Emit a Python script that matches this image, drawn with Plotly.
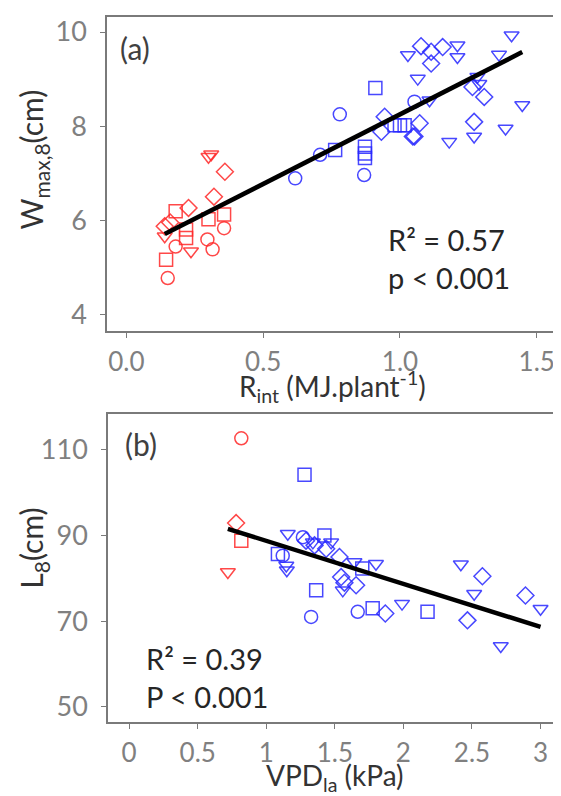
import plotly.graph_objects as go

# ---------------- Panel (a): Rint vs Wmax,8 ----------------
a_red_x = [0.30, 0.31, 0.36, 0.32, 0.227, 0.18, 0.357, 0.30, 0.14, 0.16, 0.14, 0.218, 0.218,
           0.18, 0.236, 0.296, 0.315, 0.357, 0.145, 0.151]
a_red_y = [7.35, 7.40, 7.03, 6.50, 6.26, 6.19, 6.12, 6.02, 5.87, 5.95, 5.66, 5.80, 5.62,
           5.44, 5.34, 5.59, 5.38, 5.83, 5.16, 4.77]
a_red_sym = ["triangle-down", "triangle-down", "diamond", "diamond", "diamond", "square", "square", "square",
             "diamond", "diamond", "triangle-down", "square", "square",
             "circle", "triangle-down", "circle", "circle", "circle", "square", "circle"]

a_blue_x = [0.617, 0.708, 0.763, 0.78, 0.91, 0.872, 0.872, 0.872, 0.869, 0.932, 0.944, 0.98, 1.0, 1.017,
            1.047, 1.029, 1.077, 1.114, 1.114, 1.156, 1.21, 1.21, 1.065, 1.362, 1.408, 1.108, 1.053,
            1.072, 1.053, 1.18, 1.271, 1.271, 1.386, 1.447, 1.308, 1.265, 1.283, 1.29]
a_blue_y = [6.89, 7.39, 7.49, 8.25, 8.81, 7.56, 7.42, 7.32, 6.96, 7.88, 8.20, 8.02, 8.02, 8.02,
            7.78, 9.51, 9.70, 9.58, 9.33, 9.68, 9.72, 9.47, 9.01, 9.52, 9.93, 8.55, 8.52,
            8.06, 7.78, 7.67, 7.78, 8.09, 7.95, 8.45, 8.62, 8.83, 9.05, 8.90]
a_blue_sym = ["circle", "circle", "square", "circle", "square", "square", "square", "square", "circle",
              "diamond", "diamond", "square", "square", "square",
              "diamond", "triangle-down", "diamond", "diamond", "diamond", "diamond", "triangle-down",
              "triangle-down", "triangle-down", "triangle-down", "triangle-down", "triangle-down", "circle",
              "diamond", "diamond", "triangle-down", "triangle-down", "diamond", "triangle-down",
              "triangle-down", "diamond", "diamond", "triangle-down", "triangle-down"]

a_fit = [2.96, 5.29]  # slope, intercept

# ---------------- Panel (b): VPDla vs L8 ----------------
b_red_x = [0.818, 0.78, 0.818, 0.72]
b_red_y = [112.7, 92.9, 88.8, 81.5]
b_red_sym = ["circle", "diamond", "square", "triangle-down"]

b_blue_x = [1.279, 1.157, 1.085, 1.12, 1.146, 1.15, 1.267, 1.29, 1.424, 1.473, 1.352, 1.34, 1.437,
            1.364, 1.327, 1.534, 1.643, 1.546, 1.655, 1.558, 1.667, 1.80, 1.70, 1.776, 1.868,
            1.99, 2.176, 2.419, 2.576, 2.516, 2.467, 2.71, 2.89, 3.0, 1.57]
b_blue_y = [104.2, 90.4, 85.7, 85.3, 83.0, 81.9, 89.6, 88.8, 90.0, 88.4, 87.7, 88.4, 86.9,
            77.2, 71.0, 85.0, 83.8, 80.3, 78.4, 77.2, 72.2, 83.4, 82.3, 73.0, 71.8,
            74.1, 72.2, 83.3, 80.5, 76.4, 70.2, 64.2, 76.0, 72.9, 79.0]
b_blue_sym = ["square", "triangle-down", "square", "circle", "triangle-down", "triangle-down", "circle",
              "diamond", "square", "triangle-down", "diamond", "triangle-down", "diamond",
              "square", "circle", "diamond", "triangle-down", "diamond", "diamond", "triangle-down",
              "circle", "triangle-down", "square", "square", "diamond",
              "triangle-down", "square", "triangle-down", "diamond", "triangle-down", "diamond",
              "triangle-down", "diamond", "triangle-down", "diamond"]

b_fit = [-10.04, 98.8]

RED = "rgba(255,40,40,0.85)"
BLUE = "rgba(40,40,255,0.85)"
FONT = "Lato"

fig = go.Figure()


def add_pts(xs, ys, syms, color, xa, ya):
    fig.add_trace(go.Scatter(
        x=xs, y=ys, mode="markers", xaxis=xa, yaxis=ya, showlegend=False,
        marker=dict(symbol=[s + "-open" for s in syms], size=13, color=color,
                    line=dict(width=1.5, color=color))))


def add_fit(xs, fit, xa, ya):
    x0, x1 = min(xs), max(xs)
    fig.add_trace(go.Scatter(
        x=[x0, x1], y=[fit[0] * x0 + fit[1], fit[0] * x1 + fit[1]], mode="lines",
        xaxis=xa, yaxis=ya, showlegend=False, line=dict(color="black", width=4.5)))


add_pts(a_red_x, a_red_y, a_red_sym, RED, "x", "y")
add_pts(a_blue_x, a_blue_y, a_blue_sym, BLUE, "x", "y")
add_fit(a_red_x + a_blue_x, a_fit, "x", "y")

add_pts(b_red_x, b_red_y, b_red_sym, RED, "x2", "y2")
add_pts(b_blue_x, b_blue_y, b_blue_sym, BLUE, "x2", "y2")
add_fit(b_red_x + b_blue_x, b_fit, "x2", "y2")

# page body adds an 8px margin; lay out in reference pixel coordinates shifted by it
OFF = 8
W, H = 561 - OFF, 796 - OFF


def px(X):
    return (X - OFF) / W


def py(Y):
    return 1 - (Y - OFF) / H


axcommon = dict(showline=True, mirror=True, linecolor="#7a7a7a", linewidth=1.5, showgrid=False,
                zeroline=False, ticks="outside", ticklen=5, tickcolor="#7a7a7a", ticklabeloverflow="allow")
xt = dict(ticklabelstandoff=2, tickfont=dict(family=FONT, size=26, color="#808080"), **axcommon)
yt = dict(ticklabelstandoff=8, tickfont=dict(family=FONT, size=27, color="#808080"), **axcommon)

fig.update_layout(
    width=W, height=H, margin=dict(l=0, r=0, t=0, b=0),
    paper_bgcolor="white", plot_bgcolor="white",
    font=dict(family=FONT, color="#333333"),
    xaxis=dict(domain=[px(107), px(557)], range=[-0.071, 1.574], tickvals=[0, 0.5, 1.0, 1.5],
               ticktext=["0.0", "0.5", "1.0", "1.5"], anchor="y", **xt),
    yaxis=dict(domain=[py(330), py(15)], range=[3.64, 10.32], tickvals=[4, 6, 8, 10], anchor="x", **yt),
    xaxis2=dict(domain=[px(108), px(557)], range=[-0.154, 3.12], tickvals=[0, 0.5, 1, 1.5, 2, 2.5, 3],
                ticktext=["0", "0.5", "1", "1.5", "2", "2.5", "3"], anchor="y2", **xt),
    yaxis2=dict(domain=[py(721.7), py(413.3)], range=[46.5, 118.3], tickvals=[50, 70, 90, 110],
                anchor="x2", **yt),
)

XTITLE = dict(family=FONT, size=28, color="#333333")
YTITLE = dict(family=FONT, size=30, color="#333333")


def ann(text, X, Y, font, xanchor="left", angle=0):
    fig.add_annotation(text=text, xref="paper", yref="paper", x=px(X), y=py(Y), xanchor=xanchor,
                       yanchor="middle", showarrow=False, font=font, textangle=angle)


# axis titles
ann("R<sub>int</sub> (MJ.plant<sup>-1</sup>)", 332, 385, XTITLE, "center")
ann("VPD<sub>la</sub> (kPa)", 335, 777, XTITLE, "center")
ann("W<sub>max,8</sub>(cm)", 33, 158, YTITLE, "center", -90)
ann("L<sub>8</sub>(cm)", 33, 548, YTITLE, "center", -90)

ann_font = dict(family=FONT, size=29, color="#262626")
lab_font = dict(family=FONT, size=30, color="#404040")
ann("(a)", 118, 46, lab_font)
ann("(b)", 123, 443, lab_font)
ann("R² = 0.57", 386, 238, ann_font)
ann("p < 0.001", 386, 276, ann_font)
ann("R² = 0.39", 144, 658, ann_font)
ann("P < 0.001", 144, 696, ann_font)

fig.write_html("out.html")
